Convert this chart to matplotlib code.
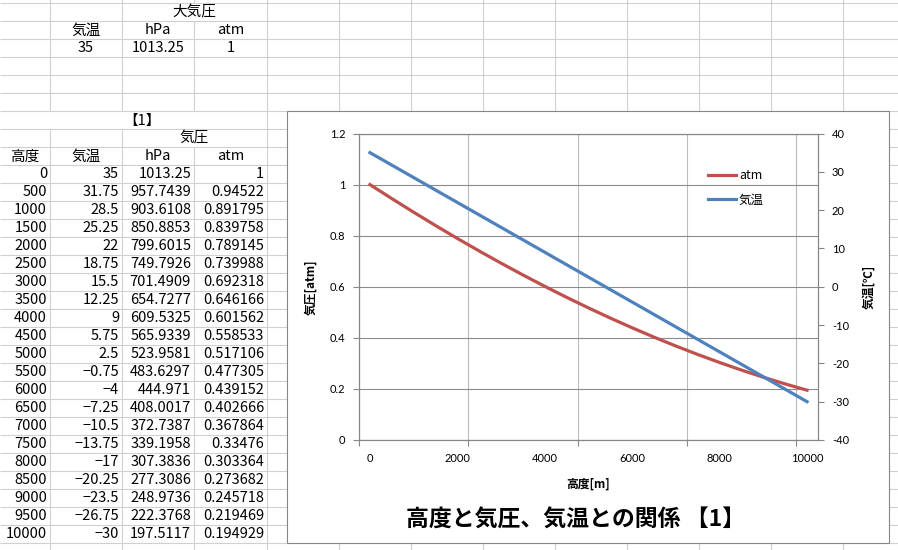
import matplotlib.pyplot as plt
from matplotlib.patches import Rectangle
from matplotlib.ticker import FixedLocator, FuncFormatter

plt.rcParams['font.family'] = ['Noto Sans CJK JP', 'DejaVu Sans']
plt.rcParams['axes.unicode_minus'] = False

# ======================================================================
# Data (as shown in the sheet)
# ======================================================================
altitude = [0, 500, 1000, 1500, 2000, 2500, 3000, 3500, 4000, 4500, 5000,
            5500, 6000, 6500, 7000, 7500, 8000, 8500, 9000, 9500, 10000]
temp = [35, 31.75, 28.5, 25.25, 22, 18.75, 15.5, 12.25, 9, 5.75, 2.5,
        -0.75, -4, -7.25, -10.5, -13.75, -17, -20.25, -23.5, -26.75, -30]
hpa = [1013.25, 957.7439, 903.6108, 850.8853, 799.6015, 749.7926, 701.4909,
       654.7277, 609.5325, 565.9339, 523.9581, 483.6297, 444.971, 408.0017,
       372.7387, 339.1958, 307.3836, 277.3086, 248.9736, 222.3768, 197.5117]
atm = [1, 0.94522, 0.891795, 0.839758, 0.789145, 0.739988, 0.692318,
       0.646166, 0.601562, 0.558533, 0.517106, 0.477305, 0.439152, 0.402666,
       0.367864, 0.33476, 0.303364, 0.273682, 0.245718, 0.219469, 0.194929]

sea_temp = 35
sea_hpa = 1013.25
sea_atm = 1

x_label_ticks = [0, 2000, 4000, 6000, 8000, 10000]
left_ticks = [0, 0.2, 0.4, 0.6, 0.8, 1.0, 1.2]
right_ticks = [-40, -30, -20, -10, 0, 10, 20, 30, 40]

# ======================================================================
# Sheet background (pixel coordinates)
# ======================================================================
W, H = 898, 550
fig = plt.figure(figsize=(W / 100, H / 100), dpi=100)
sheet = fig.add_axes([0, 0, 1, 1])
sheet.set_xlim(0, W)
sheet.set_ylim(H, 0)
sheet.axis('off')

grid_c = '#d0d0d0'
col_x = [50, 122, 194, 267, 339, 411, 483, 555, 627, 699, 771, 843]
row_h = 18
top = 3

for k in range(-1, 32):
    y = top + row_h * k
    sheet.hlines(y, 0, W, color=grid_c, lw=0.8)
    for x in col_x:
        # merged / overflowing cells have no inner border
        if k == 0 and x == 194:
            continue
        if k == 6 and x in (50, 122, 194):
            continue
        if k == 7 and x == 194:
            continue
        sheet.vlines(x, y, y + row_h, color=grid_c, lw=0.8)


def row_mid(k):
    return top + row_h * k + 9.5


def fmt(v):
    return ('%.10g' % v).replace('-', '\u2212')


cell_fs = 10.5
centers = {'A': 25, 'B': 86, 'C': 158, 'D': 230.5}
rights = {'A': 47, 'B': 119, 'C': 191, 'D': 264}

sheet.text(194.5, row_mid(0), '大気圧', ha='center', va='center', fontsize=cell_fs)
sheet.text(centers['B'], row_mid(1), '気温', ha='center', va='center', fontsize=cell_fs)
sheet.text(centers['C'], row_mid(1), 'hPa', ha='center', va='center', fontsize=cell_fs)
sheet.text(centers['D'], row_mid(1), 'atm', ha='center', va='center', fontsize=cell_fs)
sheet.text(centers['B'], row_mid(2), fmt(sea_temp), ha='center', va='center', fontsize=cell_fs)
sheet.text(centers['C'], row_mid(2), fmt(sea_hpa), ha='center', va='center', fontsize=cell_fs)
sheet.text(centers['D'], row_mid(2), fmt(sea_atm), ha='center', va='center', fontsize=cell_fs)

sheet.text(123, row_mid(6), '【1】', ha='left', va='center', fontsize=cell_fs)
sheet.text(194.5, row_mid(7), '気圧', ha='center', va='center', fontsize=cell_fs)
sheet.text(centers['A'], row_mid(8), '高度', ha='center', va='center', fontsize=cell_fs)
sheet.text(centers['B'], row_mid(8), '気温', ha='center', va='center', fontsize=cell_fs)
sheet.text(centers['C'], row_mid(8), 'hPa', ha='center', va='center', fontsize=cell_fs)
sheet.text(centers['D'], row_mid(8), 'atm', ha='center', va='center', fontsize=cell_fs)

for i in range(len(altitude)):
    r = 9 + i
    for col, val in zip('ABCD', (altitude[i], temp[i], hpa[i], atm[i])):
        sheet.text(rights[col], row_mid(r), fmt(val), ha='right', va='center',
                   fontsize=cell_fs)

# ======================================================================
# Chart object
# ======================================================================
sheet.add_patch(Rectangle((287, 111), 602, 432, facecolor='white',
                          edgecolor='#868686', lw=0.8, zorder=5))

chart_c = '#868686'

ax = fig.add_axes([359 / W, 1 - 440 / H, 459 / W, 306.5 / H])
ax.set_zorder(3)
ax.set_facecolor('white')
l1, = ax.plot(altitude, atm, color='#C0504D', lw=2.3, label='atm')
ax.set_xlim(-250, 10250)
ax.set_ylim(0, 1.2)
ax.set_yticks(left_ticks)
ax.yaxis.set_major_formatter(FuncFormatter(lambda v, p: '%g' % v))
ax.xaxis.set_major_locator(FixedLocator([-250, 2250, 4750, 7250, 9750]))
ax.xaxis.set_minor_locator(FixedLocator(x_label_ticks))
ax.xaxis.set_minor_formatter(FuncFormatter(lambda v, p: '%d' % v))
ax.tick_params(axis='x', which='major', length=4, color=chart_c, labelbottom=False)
ax.tick_params(axis='x', which='minor', length=0, pad=9)
ax.tick_params(axis='y', length=4, color=chart_c, pad=6)
for lab in ax.get_xticklabels(minor=True) + ax.get_yticklabels():
    lab.set_fontfamily('Lato')
    lab.set_fontsize(8)
ax.grid(axis='y', color='#8c8c8c', lw=0.8)
ax.grid(axis='x', which='major', color='#bcbcbc', lw=0.8)
for s in ax.spines.values():
    s.set_color(chart_c)
    s.set_linewidth(0.8)

ax2 = ax.twinx()
l2, = ax2.plot(altitude, temp, color='#4F81BD', lw=2.3, label='気温')
ax2.set_ylim(-40, 40)
ax2.set_yticks(right_ticks)
ax2.tick_params(axis='y', length=4, color=chart_c, pad=6)
for lab in ax2.get_yticklabels():
    lab.set_fontfamily('Lato')
    lab.set_fontsize(8)
for s in ax2.spines.values():
    s.set_color(chart_c)
    s.set_linewidth(0.8)

ax2.legend([l1, l2], ['atm', '気温'], loc='center left',
           bbox_to_anchor=(702 / W, 1 - 188 / H), bbox_transform=fig.transFigure,
           frameon=False, borderpad=0, handlelength=2.25, handletextpad=0.2,
           labelspacing=0.9, prop={'family': 'Noto Sans CJK JP', 'size': 9})

# axis titles and chart title
sheet.text(311, 287, '気圧[atm]', rotation=90, ha='center', va='center',
           fontsize=8.5, fontweight='bold', zorder=6)
sheet.text(869, 287, '気温[℃]', rotation=90, ha='center', va='center',
           fontsize=8.5, fontweight='bold', zorder=6)
sheet.text(588, 484, '高度[m]', ha='center', va='center',
           fontsize=8.5, fontweight='bold', zorder=6)
sheet.text(406, 520, '高度と気圧、気温との関係 【1】', ha='left', va='center',
           fontsize=16.5, fontweight='bold', zorder=6)

fig.savefig('out.png', dpi=100)
